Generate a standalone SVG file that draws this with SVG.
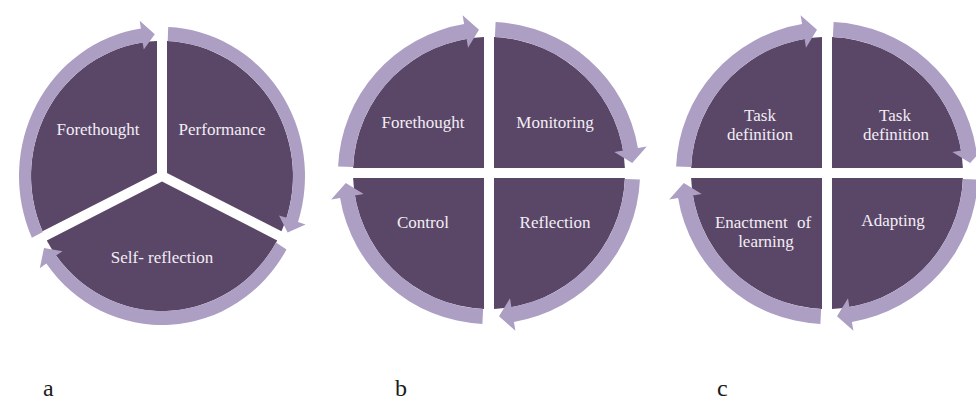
<svg xmlns="http://www.w3.org/2000/svg" xmlns:xlink="http://www.w3.org/1999/xlink" width="976" height="403" viewBox="0 0 976 403">
<style>
.seg{fill:#5a4667}
.ring{fill:#ad9ec4}
.lbl{font-family:"Liberation Serif","Times New Roman",serif;font-size:17px;fill:#f2eef5;text-anchor:middle}
.cap{font-family:"Liberation Serif","Times New Roman",serif;font-size:24px;fill:#1a1a1a}
</style>
<defs>
<path id="qarrow" d="M-150.9,-6.6 A151,151 0 0 1 -24.9,-148.9 L-26.4,-157.8 L-10,-143.2 L-21,-125.3 L-22.4,-134.1 A136,136 0 0 0 -135.9,-5.9 Z"/>
</defs>
<rect width="976" height="403" fill="#ffffff"/>

<!-- Diagram a -->
<g id="a-forethought">
<path class="seg" d="M157,172.9 L157,41.1 A131,135 0 0 0 42.5,231.2 Z"/>
<text class="lbl" x="98" y="135">Forethought</text>
</g>
<g id="a-performance">
<path class="seg" d="M167,172.9 L281.5,231.2 A131,135 0 0 0 167,41.1 Z"/>
<text class="lbl" x="222" y="135">Performance</text>
</g>
<g id="a-selfreflection">
<path class="seg" d="M162,181.6 L277.2,240.4 A131,135 0 0 1 46.8,240.4 Z"/>
<text class="lbl" x="162" y="263">Self- reflection</text>
</g>

<!-- Diagram b -->
<g id="b-forethought">
<path class="seg" d="M484,168 L484,37.1 A136,136 0 0 0 353.1,168 Z"/>
<text class="lbl" x="423" y="128">Forethought</text>
</g>
<g id="b-monitoring">
<path class="seg" d="M494,168 L624.9,168 A136,136 0 0 0 494,37.1 Z"/>
<text class="lbl" x="555" y="128">Monitoring</text>
</g>
<g id="b-reflection">
<path class="seg" d="M494,178 L494,308.9 A136,136 0 0 0 624.9,178 Z"/>
<text class="lbl" x="555" y="228">Reflection</text>
</g>
<g id="b-control">
<path class="seg" d="M484,178 L353.1,178 A136,136 0 0 0 484,308.9 Z"/>
<text class="lbl" x="423" y="228">Control</text>
</g>

<!-- Diagram c -->
<g id="c-taskdef1">
<path class="seg" d="M822,168 L822,37.1 A136,136 0 0 0 691.1,168 Z"/>
<text class="lbl" x="760" y="121">Task</text>
<text class="lbl" x="760" y="140">definition</text>
</g>
<g id="c-taskdef2">
<path class="seg" d="M832,168 L962.9,168 A136,136 0 0 0 832,37.1 Z"/>
<text class="lbl" x="895" y="121">Task</text>
<text class="lbl" x="896" y="140">definition</text>
</g>
<g id="c-adapting">
<path class="seg" d="M832,178 L832,308.9 A136,136 0 0 0 962.9,178 Z"/>
<text class="lbl" x="893" y="226">Adapting</text>
</g>
<g id="c-enactment">
<path class="seg" d="M822,178 L691.1,178 A136,136 0 0 0 822,308.9 Z"/>
<text class="lbl" x="763" y="228" word-spacing="5">Enactment of</text>
<text class="lbl" x="766" y="247">learning</text>
</g>

<!-- Connectors: circular arrows -->
<g id="connectors">
<path class="ring" d="M31.9,237.8 A143,149 0 0 1 140.9,28.6 L139.7,20.7 L154.8,34.2 L143.8,49.4 L142.6,42.5 A131,135 0 0 0 42.8,232 Z"/>
<path class="ring" d="M168.2,27.1 A143,149 0 0 1 298,222 L305.6,224.5 L287.6,232.6 L279,215.6 L286.6,217.7 A131,135 0 0 0 167.7,41.1 Z"/>
<path class="ring" d="M286.5,249.4 A143,149 0 0 1 46.3,263.6 L39.8,268.3 L44,248.1 L62.5,251.2 L56,255.4 A131,135 0 0 0 276,242.5 Z"/>
<use xlink:href="#qarrow" href="#qarrow" class="ring" transform="translate(489,173)"/>
<use xlink:href="#qarrow" href="#qarrow" class="ring" transform="translate(489,173) rotate(90)"/>
<use xlink:href="#qarrow" href="#qarrow" class="ring" transform="translate(489,173) rotate(180)"/>
<use xlink:href="#qarrow" href="#qarrow" class="ring" transform="translate(489,173) rotate(270)"/>
<use xlink:href="#qarrow" href="#qarrow" class="ring" transform="translate(827,173)"/>
<use xlink:href="#qarrow" href="#qarrow" class="ring" transform="translate(827,173) rotate(90)"/>
<use xlink:href="#qarrow" href="#qarrow" class="ring" transform="translate(827,173) rotate(180)"/>
<use xlink:href="#qarrow" href="#qarrow" class="ring" transform="translate(827,173) rotate(270)"/>
</g>

<text class="cap" x="43" y="396">a</text>
<text class="cap" x="395" y="396">b</text>
<text class="cap" x="717" y="396">c</text>
</svg>
